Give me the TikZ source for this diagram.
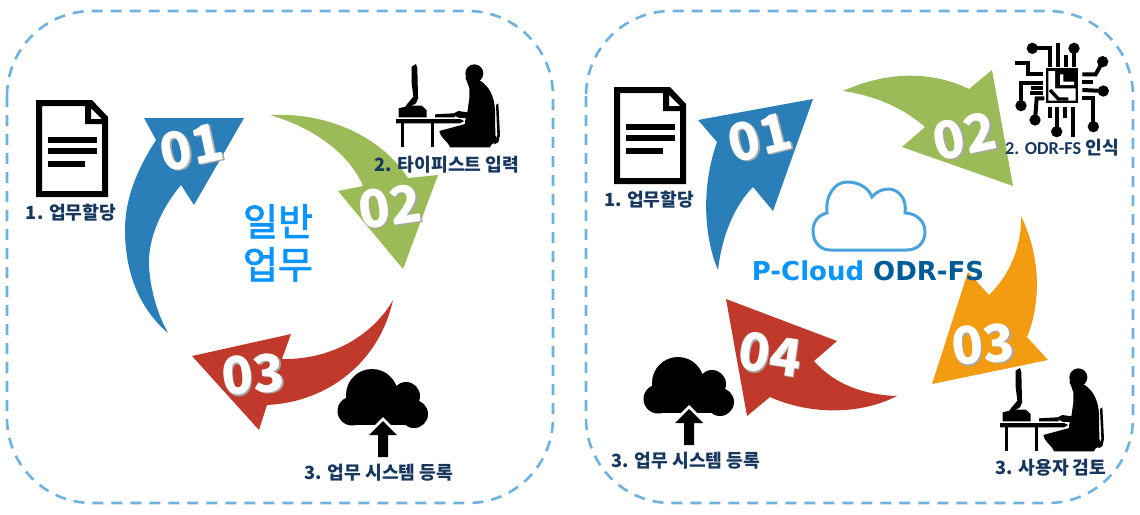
\documentclass[tikz,border=0pt]{standalone}
\usepackage{fontspec}
\newfontfamily\krfont{Noto Sans CJK KR}
\newfontfamily\krtitlefont[FakeBold=2.2]{Noto Sans CJK KR}
\newfontfamily\titlefont{DejaVu Sans}
\newfontfamily\latinfont{Carlito}
\definecolor{framecol}{HTML}{6FB1DF}
\definecolor{arrowblue}{HTML}{2A7FB8}
\definecolor{arrowgreen}{HTML}{9BBB59}
\definecolor{arrowred}{HTML}{C0392B}
\definecolor{arroworange}{HTML}{F39C12}
\definecolor{labelcol}{HTML}{17375E}
\definecolor{titleblue}{HTML}{0A94FF}
\definecolor{titledark}{HTML}{005B96}
\definecolor{cloudline}{HTML}{4AA3DC}
\newcommand{\numshadow}[1]{\rlap{\kern1.4pt\raisebox{-1.4pt}{\color{black!35}#1}}#1}
\tikzstyle{frame} = [draw=framecol,line width=2.6pt,dash pattern=on 11pt off 8pt,rounded corners=85pt]
\tikzstyle{tasklabel} = [font=\krfont\bfseries\fontsize{18.2}{21}\selectfont,text=labelcol,inner sep=0pt]
\tikzstyle{numtext} = [font=\krfont\bfseries\fontsize{52}{55}\selectfont,text=white,inner sep=0pt]
\tikzset{
  docicon/.pic={
    \fill[even odd rule] (0,0) -- (56,0) -- (72,17) -- (72,97) -- (0,97) -- cycle
      (6,6) -- (49,6) -- (49,24) -- (66,24) -- (66,91) -- (6,91) -- cycle
      (55,8) -- (66,19) -- (55,19) -- cycle;
    \fill (12,37) rectangle (61,43);
    \fill (12,48) rectangle (61,54);
    \fill (12,61) rectangle (49,67);
  },
  upcloud/.pic={
    \fill (34,26) circle (26);
    \fill (68,27) circle (14);
    \fill (76,45) circle (14);
    \fill (14,42) circle (14.5);
    \fill (14,30) rectangle (76,56);
    \fill[white] (45,48) -- (22,71) -- (68,71) -- cycle;
    \fill (45,52) -- (59,66) -- (50,66) -- (50,88) -- (40,88) -- (40,66) -- (31,66) -- cycle;
  },
  typist/.pic={
    \fill (65,35) -- (78,27) -- (82,40) -- (84,125) -- (85,128) -- (78,145) -- (60,155) -- (45,155) -- (70,125) -- (65,85) -- cycle;
    \fill (26,160) -- (60,152) -- (95,152) -- (110,165) -- (110,187) -- (26,187) -- cycle;
    \fill (33,205) rectangle (43,277);
    \fill (122,205) rectangle (133,277);
    \fill (135,178) -- (190,175) -- (195,187) -- (135,187) -- cycle;
    \fill (253,55) circle (27);
    \fill (226,68) -- (240,60) -- (272,78) .. controls (298,95) and (313,125) .. (315,165) -- (316,240)
      .. controls (324,250) and (317,265) .. (305,268) -- (300,277) -- (180,277)
      .. controls (175,260) and (148,245) .. (148,228) -- (222,208) -- (228,190) -- (205,188) -- (185,178)
      -- (205,168) -- (232,172) -- (238,130) -- (238,100) -- (233,85) -- cycle;
    \fill (318,150) -- (325,145) -- (330,240) -- (325,262) -- (312,268) -- (322,240) -- cycle;
    \fill[white] (205,188) rectangle (226,208);
    \fill (18,192) -- (210,192) -- (222,198) -- (210,205) -- (18,205) -- cycle;
  },
  chipicon/.pic={
    \fill (122,100) rectangle (220,205);
    \fill[white] (130,108) -- (150,108) -- (150,160) -- (212,160) -- (212,197) -- (130,197) -- cycle;
    \fill[white] (165,118) -- (175,118) -- (175,140) -- (207,140) -- (207,150) -- (165,150) -- cycle;
    \draw[line width=3.4pt] (135,165) -- (160,192) -- (190,192);
    \begin{scope}[line width=4pt]
      \draw (82,40) -- (135,40) -- (135,95);
      \draw (158,25) -- (158,95);
      \draw (182,60) -- (182,95);
      \draw (207,40) -- (207,95);
      \draw (293,80) -- (272,118) -- (232,118);
      \draw (232,140) -- (265,140);
      \draw (232,165) -- (295,168);
      \draw (232,188) -- (265,188) -- (265,275);
      \draw (30,85) -- (70,85) -- (70,118) -- (115,118);
      \draw (48,212) -- (48,145) -- (115,145);
      \draw (78,160) -- (115,160);
      \draw (75,174) -- (115,174);
      \draw (90,255) -- (95,190) -- (118,190);
      \draw (135,215) -- (135,250);
      \draw (155,215) -- (155,290);
      \draw (180,215) -- (180,250);
      \draw (203,215) -- (203,305);
    \end{scope}
    \foreach \cx/\cy in {82/40,207/40,293/80,295/168,265/275,48/212,90/255,155/290}
      \fill (\cx,\cy) circle (17);
  }
}

\begin{document}
\begin{tikzpicture}[x=1pt,y=-1pt]
    \useasboundingbox (0,0) rectangle (1140,514);

    % dashed frames
    \draw[frame] (7,11) rectangle (553,503);
    \draw[frame] (586,11) rectangle (1133,503);

    % left cycle
    \fill[arrowblue] (168,333) .. controls (135,305) and (125,265) .. (125,230) .. controls (125,195) and (140,165) .. (156,140) -- (144,118) -- (244,118) -- (194,205) -- (181,185) .. controls (160,210) and (148,240) .. (149,265) .. controls (150,290) and (158,315) .. (168,333) -- cycle;
    \fill[arrowgreen] (270,115) .. controls (325,112) and (380,135) .. (408,178) -- (438,175) -- (403,269) -- (338,191) -- (363,186) .. controls (350,155) and (315,128) .. (270,115) -- cycle;
    \fill[arrowred] (393,300) .. controls (375,332) and (335,360) .. (282,359) -- (291,334) -- (192,356) -- (259,430) -- (267,405) .. controls (330,402) and (380,360) .. (393,300) -- cycle;

    % right cycle
    \fill[arrowblue] (718,270) .. controls (705,240) and (700,190) .. (717,142) -- (698,120) -- (813,99) -- (773,211) -- (753,187) .. controls (735,205) and (722,235) .. (718,270) -- cycle;
    \fill[arrowgreen] (843,91) .. controls (885,72) and (930,70) .. (969,89) -- (992,70) -- (1013,186) -- (902,147) -- (925,127) .. controls (900,105) and (870,95) .. (843,91) -- cycle;
    \fill[arroworange] (1021,216) .. controls (1040,255) and (1042,300) .. (1027,337) -- (1048,360) -- (932,384) -- (968,272) -- (989,295) .. controls (1010,275) and (1022,245) .. (1021,216) -- cycle;
    \fill[arrowred] (897,396) .. controls (865,395) and (835,385) .. (814,361) -- (837,341) -- (726,299) -- (747,416) -- (770,397) .. controls (810,415) and (860,415) .. (897,396) -- cycle;

    % icons
    \pic at (36,100) {docicon};
    \pic at (614,87) {docicon};
    \pic at (338,369) {upcloud};
    \pic at (644,357) {upcloud};
    \pic[scale=1/3] at (390,55) {typist};
    \pic[scale=1/3] at (994,359) {typist};
    \pic[scale=1/3] at (1005,35) {chipicon};

    % outlined cloud
    \draw[cloudline,line width=3pt] (830,250) -- (907,250) .. controls (918,250) and (925,242) .. (925,232) .. controls (925,221) and (916,213) .. (905,213) .. controls (907,200) and (900,190) .. (889,189) .. controls (882,189) and (876,192) .. (872,197) .. controls (868,187) and (858,182) .. (847,182) .. controls (835,182) and (825,195) .. (827,213) .. controls (818,215) and (813,222) .. (813,231) .. controls (813,242) and (820,250) .. (830,250) -- cycle;

    % step numbers
    \foreach \pos/\name/\rot/\txt in {{(192,148)/numa/12/01},{(390,207)/numb/8/02},{(253,375)/numc/5/03},{(760,138)/numd/14/01},{(965,137)/nume/12/02},{(983,345)/numf/5/03},{(770,355)/numg/-8/04}}
        \node[numtext,rotate=\rot] (\name) at \pos {\numshadow{\txt}};

    % task labels
    \foreach \pos/\name/\txt in {{(71,213)/taska/1. 업무할당},{(447,165)/taskb/2. 타이피스트 입력},{(379,473)/taskc/3. 업무 시스템 등록},{(649,200)/taskd/1. 업무할당},{(1062,148)/taske/{\latinfont\bfseries 2. ODR-FS} 인식},{(1051,468)/taskf/3. 사용자 검토},{(686,461)/taskg/3. 업무 시스템 등록}}
        \node[tasklabel] (\name) at \pos {\txt};

    % titles
    \node[font=\krtitlefont\fontsize{38}{43}\selectfont,text=titleblue,align=center,inner sep=0pt] (general) at (278,243) {일반\\업무};
    \node[font=\titlefont\bfseries\fontsize{26}{29}\selectfont,inner sep=0pt] (pcloud) at (868,271) {\textcolor{titleblue}{P-Cloud} \textcolor{titledark}{ODR-FS}};

\end{tikzpicture}
\end{document}
